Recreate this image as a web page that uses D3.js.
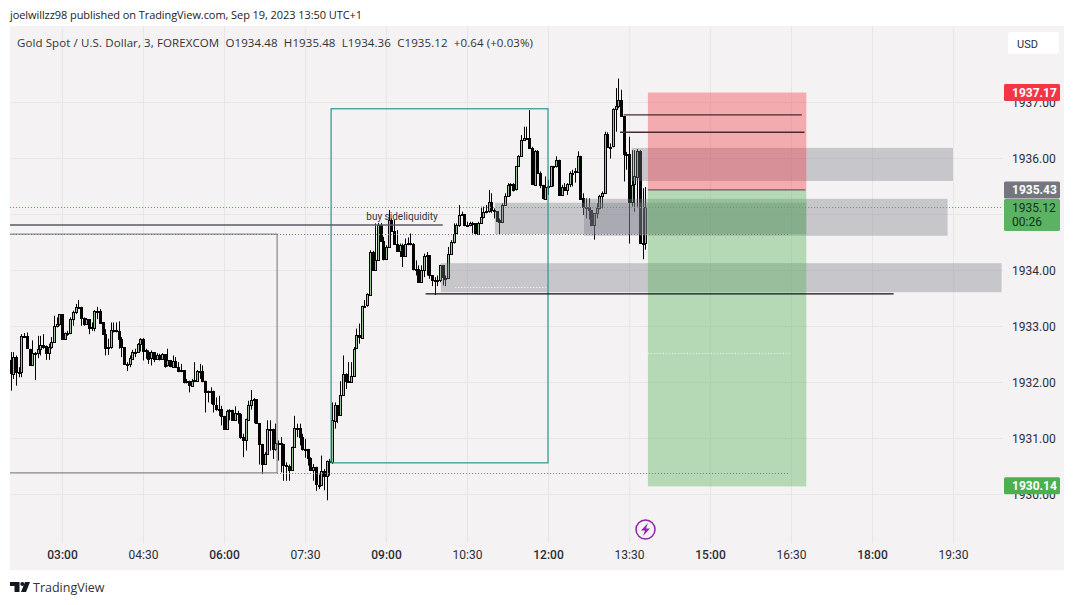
<!DOCTYPE html>
<html>

<head>
    <meta charset="utf-8">
    <style>
        html, body { margin: 0; padding: 0; background: #fff; overflow: hidden; }
        text { font-family: Roboto, sans-serif; white-space: pre; }
        .head { font-family: "Open Sans", sans-serif; }
    </style>
    <script src="https://cdn.jsdelivr.net/npm/d3@7/dist/d3.min.js"></script>
    <title>XAUUSD 3m</title>
</head>

<body>
    <div id="chart"></div>

    <script>
        // Candles: one every 3 minutes, the first at 02:00 (clipped by the pane edge)
        const opens = [1932.85,1932.38,1932.14,1932.44,1932.17,1932.17,1932.82,1932.81,1932.59,1932.30,
            1932.51,1932.51,1932.59,1932.66,1932.63,1932.51,1932.62,1932.71,1933.00,1933.03,
            1933.21,1932.77,1932.87,1932.87,1933.12,1933.24,1933.33,1933.34,1933.14,1933.03,
            1933.12,1932.96,1932.97,1933.27,1933.27,1933.06,1932.85,1932.60,1932.62,1932.93,
            1932.93,1932.91,1932.77,1932.62,1932.32,1932.31,1932.42,1932.54,1932.54,1932.68,
            1932.77,1932.56,1932.54,1932.42,1932.53,1932.41,1932.48,1932.41,1932.50,1932.29,
            1932.38,1932.27,1932.37,1932.27,1932.20,1932.21,1931.99,1932.01,1931.93,1932.02,
            1932.03,1932.20,1932.20,1932.02,1931.83,1931.81,1931.83,1931.59,1931.51,1931.51,
            1931.39,1931.16,1931.48,1931.50,1931.32,1931.44,1931.42,1931.01,1930.95,1931.33,
            1931.59,1931.68,1931.69,1931.26,1930.89,1930.53,1930.71,1931.16,1931.16,1930.80,
            1930.90,1930.90,1930.89,1930.52,1930.50,1930.42,1930.83,1931.17,1931.17,1931.01,
            1930.80,1930.80,1930.64,1930.42,1930.47,1930.16,1930.16,1930.41,1930.32,1930.58,
            1930.56,1931.31,1931.59,1931.42,1931.77,1932.14,1932.02,1932.01,1932.11,1932.59,
            1932.83,1932.79,1933.36,1933.36,1933.56,1934.32,1934.00,1934.18,1934.80,1934.52,
            1934.20,1934.41,1934.90,1934.70,1934.47,1934.35,1934.45,1934.26,1934.47,1934.48,
            1934.47,1934.02,1934.02,1933.78,1933.99,1934.24,1934.26,1933.90,1933.81,1933.81,
            1933.81,1934.08,1933.86,1933.86,1934.29,1934.50,1934.65,1934.80,1934.98,1935.00,
            1934.80,1934.80,1934.83,1934.83,1934.65,1934.84,1934.95,1935.04,1935.06,1935.22,
            1935.07,1935.06,1934.89,1934.86,1935.16,1935.32,1935.52,1935.53,1935.43,1935.85,
            1936.03,1936.32,1936.35,1936.35,1936.17,1935.53,1936.13,1935.74,1935.52,1935.28,
            1935.49,1935.50,1935.85,1935.86,1935.97,1935.34,1935.49,1935.44,1935.54,1935.73,
            1935.74,1935.76,1936.04,1935.28,1935.12,1935.13,1935.07,1934.80,1935.01,1935.10,
            1935.32,1935.38,1936.43,1936.20,1936.20,1936.87,1936.93,1937.04,1936.75,1936.07,
            1936.07,1935.22,1935.52,1935.67,1936.13,1934.48,1934.48];
        const closes = [1932.38,1932.14,1932.44,1932.17,1932.17,1932.82,1932.81,1932.59,1932.30,1932.51,
            1932.51,1932.59,1932.66,1932.63,1932.51,1932.62,1932.71,1933.00,1933.03,1933.21,
            1932.77,1932.87,1932.87,1933.12,1933.24,1933.33,1933.34,1933.14,1933.03,1933.12,
            1932.96,1932.97,1933.27,1933.27,1933.06,1932.85,1932.60,1932.62,1932.93,1932.93,
            1932.91,1932.77,1932.62,1932.32,1932.31,1932.42,1932.54,1932.54,1932.68,1932.77,
            1932.56,1932.54,1932.42,1932.53,1932.41,1932.48,1932.41,1932.50,1932.29,1932.38,
            1932.27,1932.37,1932.27,1932.20,1932.21,1931.99,1932.01,1931.93,1932.02,1932.03,
            1932.20,1932.20,1932.02,1931.83,1931.81,1931.83,1931.59,1931.51,1931.51,1931.39,
            1931.16,1931.48,1931.50,1931.32,1931.44,1931.42,1931.01,1930.95,1931.33,1931.59,
            1931.68,1931.69,1931.26,1930.89,1930.53,1930.71,1931.16,1931.16,1930.80,1930.90,
            1930.90,1930.89,1930.52,1930.50,1930.42,1930.83,1931.17,1931.17,1931.01,1930.80,
            1930.80,1930.64,1930.42,1930.47,1930.16,1930.16,1930.41,1930.32,1930.58,1930.56,
            1931.31,1931.59,1931.42,1931.77,1932.14,1932.02,1932.01,1932.11,1932.59,1932.83,
            1932.79,1933.36,1933.36,1933.56,1934.32,1934.00,1934.18,1934.80,1934.52,1934.20,
            1934.41,1934.90,1934.70,1934.47,1934.35,1934.45,1934.26,1934.47,1934.48,1934.47,
            1934.02,1934.02,1933.78,1933.99,1934.24,1934.26,1933.90,1933.81,1933.81,1933.81,
            1934.08,1933.86,1933.86,1934.29,1934.50,1934.65,1934.80,1934.98,1935.00,1934.80,
            1934.80,1934.83,1934.83,1934.65,1934.84,1934.95,1935.04,1935.06,1935.22,1935.07,
            1935.06,1934.89,1934.86,1935.16,1935.32,1935.52,1935.53,1935.43,1935.85,1936.03,
            1936.32,1936.35,1936.35,1936.17,1935.53,1936.13,1935.74,1935.52,1935.28,1935.49,
            1935.50,1935.85,1935.86,1935.97,1935.34,1935.49,1935.44,1935.54,1935.73,1935.74,
            1935.76,1936.04,1935.28,1935.12,1935.13,1935.07,1934.80,1935.01,1935.10,1935.32,
            1935.38,1936.43,1936.20,1936.20,1936.87,1936.93,1937.04,1936.75,1936.07,1936.07,
            1935.22,1935.52,1935.67,1936.13,1934.48,1934.48,1935.12];
        const highs = [1932.85,1932.53,1932.53,1932.47,1932.26,1932.85,1932.87,1932.88,1932.59,1932.74,
            1932.53,1932.82,1932.82,1932.85,1932.65,1932.68,1932.80,1933.18,1933.15,1933.21,
            1933.21,1932.88,1932.91,1933.15,1933.27,1933.39,1933.46,1933.34,1933.15,1933.14,
            1933.12,1933.06,1933.28,1933.34,1933.30,1933.06,1932.94,1932.77,1933.06,1933.06,
            1933.06,1933.08,1932.80,1932.62,1932.35,1932.47,1932.57,1932.59,1932.69,1932.78,
            1932.78,1932.59,1932.56,1932.56,1932.47,1932.51,1932.50,1932.51,1932.41,1932.59,
            1932.38,1932.47,1932.44,1932.35,1932.32,1932.20,1932.05,1932.02,1932.05,1932.35,
            1932.21,1932.32,1932.29,1932.02,1931.84,1931.90,1931.84,1931.72,1931.75,1931.57,
            1931.39,1931.50,1931.51,1931.50,1931.56,1931.48,1931.44,1931.07,1931.34,1931.66,
            1931.85,1931.71,1931.69,1931.26,1930.89,1930.74,1931.31,1931.31,1931.16,1931.25,
            1930.95,1931.01,1930.89,1930.56,1930.52,1930.84,1931.39,1931.25,1931.25,1931.07,
            1930.98,1930.80,1930.65,1930.53,1930.48,1930.34,1930.68,1930.44,1930.59,1930.62,
            1931.63,1931.63,1931.57,1932.01,1932.47,1932.15,1932.35,1932.35,1932.62,1932.95,
            1933.04,1933.36,1933.46,1933.58,1934.35,1934.34,1934.83,1934.84,1934.84,1934.59,
            1934.44,1935.07,1934.92,1934.89,1934.71,1934.47,1934.47,1934.56,1934.58,1934.65,
            1934.48,1934.17,1934.08,1934.08,1934.29,1934.32,1934.26,1933.90,1933.87,1933.90,
            1934.09,1934.08,1933.90,1934.41,1934.53,1934.83,1934.83,1935.16,1935.04,1935.00,
            1934.86,1934.86,1934.86,1934.83,1934.86,1935.13,1935.13,1935.16,1935.43,1935.37,
            1935.10,1935.04,1934.92,1935.19,1935.37,1935.55,1935.55,1935.55,1935.86,1936.05,
            1936.41,1936.56,1936.56,1936.86,1936.20,1936.14,1936.14,1935.76,1935.52,1935.67,
            1935.61,1935.86,1935.86,1936.03,1935.97,1935.52,1935.55,1935.55,1935.76,1935.79,
            1935.82,1936.12,1936.04,1935.37,1935.28,1935.28,1935.04,1935.01,1935.19,1935.34,
            1935.40,1936.47,1936.46,1936.26,1936.89,1937.25,1937.42,1937.22,1936.75,1936.11,
            1936.38,1936.14,1936.14,1936.16,1936.14,1935.46,1935.48];
        const lows = [1932.35,1931.84,1932.05,1931.93,1932.08,1932.08,1932.78,1932.59,1932.29,1932.29,
            1932.03,1932.42,1932.47,1932.59,1932.39,1932.39,1932.59,1932.71,1932.97,1933.00,
            1932.75,1932.77,1932.82,1932.85,1933.00,1933.21,1933.33,1933.00,1933.00,1933.02,
            1932.85,1932.91,1932.90,1933.12,1933.03,1932.84,1932.47,1932.48,1932.59,1932.88,
            1932.88,1932.59,1932.44,1932.31,1932.19,1932.26,1932.41,1932.44,1932.53,1932.54,
            1932.38,1932.41,1932.32,1932.29,1932.35,1932.39,1932.38,1932.39,1932.25,1932.27,
            1932.26,1932.26,1932.25,1932.17,1932.17,1931.97,1931.97,1931.81,1931.93,1932.03,
            1932.03,1932.05,1931.99,1931.45,1931.63,1931.60,1931.45,1931.48,1931.39,1931.22,
            1931.16,1931.16,1931.31,1931.31,1931.31,1931.25,1930.98,1930.65,1930.77,1931.31,
            1931.50,1931.26,1931.25,1930.52,1930.35,1930.53,1930.92,1930.77,1930.62,1930.77,
            1930.59,1930.38,1930.23,1930.23,1930.23,1930.41,1930.83,1931.01,1930.86,1930.77,
            1930.64,1930.50,1930.41,1930.23,1930.05,1930.08,1930.29,1930.06,1929.88,1930.32,
            1930.53,1931.16,1931.26,1931.41,1931.75,1931.87,1931.99,1932.01,1932.11,1932.59,
            1932.68,1932.79,1933.34,1933.34,1933.55,1933.99,1933.99,1934.17,1934.50,1934.17,
            1934.18,1934.41,1934.68,1934.47,1934.32,1934.23,1934.05,1934.26,1934.44,1934.44,
            1933.99,1933.90,1933.77,1933.77,1933.87,1933.90,1933.84,1933.71,1933.55,1933.71,
            1933.78,1933.72,1933.71,1933.99,1934.29,1934.47,1934.65,1934.77,1934.98,1934.78,
            1934.78,1934.78,1934.65,1934.62,1934.65,1934.84,1934.92,1935.01,1935.02,1935.02,
            1934.92,1934.86,1934.64,1934.84,1935.16,1935.32,1935.32,1935.40,1935.42,1935.85,
            1936.03,1936.31,1936.34,1936.16,1935.52,1935.52,1935.73,1935.46,1935.26,1935.28,
            1935.34,1935.48,1935.49,1935.83,1935.32,1935.32,1935.43,1935.34,1935.48,1935.49,
            1935.56,1935.74,1935.27,1934.98,1934.92,1934.90,1934.78,1934.54,1934.92,1935.08,
            1935.10,1935.37,1936.19,1935.99,1936.19,1936.47,1936.89,1936.74,1935.58,1935.79,
            1934.47,1935.13,1935.04,1935.13,1934.47,1934.19,1934.36];

        // Axis ticks
        const timeTicks = [180, 270, 360, 450, 540, 630, 720, 810, 900, 990, 1080, 1170];
        const timeLabels = ["03:00", "04:30", "06:00", "07:30", "09:00", "10:30", "12:00", "13:30", "15:00", "16:30", "18:00", "19:30"];
        const boldTimes = ["03:00", "06:00", "09:00", "12:00", "15:00", "18:00"];
        const priceGrid = [1930, 1931, 1932, 1933, 1934, 1935, 1936, 1937];
        // 1935.00 sits behind the last-price label, so it gets no text
        const priceTicks = [1930, 1931, 1932, 1933, 1934, 1936, 1937];

        // Drawings, in minutes of the day and price
        const stopPrice = 1937.17, entryPrice = 1935.43, targetPrice = 1930.14, lastPrice = 1935.12;
        const positionStart = 831, positionEnd = 1007;
        const zones = [
            [813, 1170, 1936.18, 1935.59],
            [760, 1164, 1935.27, 1934.61],
            [661, 1007, 1935.20, 1934.64],
            [601, 1224, 1934.12, 1933.60]
        ];
        const tealBox = [479, 720, 1936.88, 1930.55];
        const solidLines = [
            [120, 603, 1934.80, "#5a5b63", 1.5],
            [584, 1104, 1933.57, "#111", 1.2],
            [804, 1002, 1936.77, "#4a2a30", 1.3],
            [800, 1005, 1936.46, "#4a2a30", 1.3],
            [831, 1006, entryPrice, "#6b5a5e", 1.2]
        ];
        const dottedLines = [
            [120, 1224, lastPrice, "#4caf50"],
            [120, 989, 1934.65, "#787b86"],
            [419, 989, 1930.37, "#787b86"],
            [617, 720, 1933.69, "#fff"],
            [831, 989, 1932.51, "#fff"]
        ];
        const greyBox = [120, 419, 1934.64, 1930.37];

        const width = 1074, height = 605;
        const pane = { left: 10, right: 1064, top: 26, bottom: 570, gridRight: 1003, gridBottom: 543 };

        const svg = d3.select("#chart").append("svg")
            .attr("width", width)
            .attr("height", height)
            .style("display", "block");

        const x = d3.scaleLinear().domain([180, 1170]).range([62, 953]);
        const y = d3.scaleLinear().domain([1930, 1936]).range([493.6, 158]);

        svg.append("defs").append("clipPath").attr("id", "plot")
            .append("rect")
            .attr("x", pane.left)
            .attr("y", pane.top)
            .attr("width", pane.gridRight - pane.left)
            .attr("height", pane.gridBottom - pane.top);

        // Pane background
        svg.append("rect")
            .attr("x", pane.left)
            .attr("y", pane.top)
            .attr("width", pane.right - pane.left)
            .attr("height", pane.bottom - pane.top)
            .attr("fill", "#f4f2f3");

        // Grid
        svg.append("g").selectAll("line").data(timeTicks).enter().append("line")
            .attr("x1", d => Math.round(x(d)) + 0.5)
            .attr("x2", d => Math.round(x(d)) + 0.5)
            .attr("y1", pane.top)
            .attr("y2", pane.gridBottom)
            .attr("stroke", "#e7e5e7");
        svg.append("g").selectAll("line").data(priceGrid).enter().append("line")
            .attr("x1", pane.left)
            .attr("x2", pane.gridRight)
            .attr("y1", d => Math.round(y(d)) + 0.5)
            .attr("y2", d => Math.round(y(d)) + 0.5)
            .attr("stroke", "#e7e5e7");

        // Axes
        const xAxis = d3.axisBottom(x)
            .tickValues(timeTicks)
            .tickFormat((d, i) => timeLabels[i])
            .tickSize(0);
        const xG = svg.append("g").attr("transform", `translate(0,${pane.gridBottom})`).call(xAxis);
        xG.select(".domain").remove();
        xG.selectAll("text")
            .attr("y", 7)
            .attr("font-size", 12)
            .attr("dy", "0.71em")
            .attr("fill", "#2a2e39")
            .attr("font-weight", d => boldTimes.includes(timeLabels[timeTicks.indexOf(d)]) ? 500 : 400);

        const yAxis = d3.axisRight(y)
            .tickValues(priceTicks)
            .tickFormat(d3.format(".2f"))
            .tickSize(0);
        const yG = svg.append("g").attr("transform", `translate(1012,0.6)`).call(yAxis);
        yG.select(".domain").remove();
        yG.selectAll("text").attr("x", 0).attr("font-size", 12).attr("fill", "#2a2e39");

        // Candles
        const candles = svg.append("g").attr("clip-path", "url(#plot)");
        const candleX = i => Math.round(x(120 + 3 * i));

        candles.selectAll("line").data(closes).enter().append("line")
            .attr("x1", (d, i) => candleX(i) + 0.5)
            .attr("x2", (d, i) => candleX(i) + 0.5)
            .attr("y1", (d, i) => y(highs[i]))
            .attr("y2", (d, i) => y(lows[i]))
            .attr("stroke", "#050505")
            .attr("stroke-width", 1);

        candles.selectAll("rect").data(closes).enter().append("rect")
            .attr("x", (d, i) => candleX(i) - 0.5)
            .attr("y", (d, i) => Math.round(y(Math.max(opens[i], d))) + 0.5)
            .attr("width", 2)
            .attr("height", (d, i) => Math.max(1, Math.round(Math.abs(y(opens[i]) - y(d)))))
            .attr("fill", (d, i) => d >= opens[i] ? "#9dc49c" : "#000")
            .attr("stroke", "#050505")
            .attr("stroke-width", 1)
            .attr("shape-rendering", "crispEdges");

        // Grey order blocks
        svg.append("g").selectAll("rect").data(zones).enter().append("rect")
            .attr("x", d => x(d[0]))
            .attr("y", d => y(d[2]))
            .attr("width", d => x(d[1]) - x(d[0]))
            .attr("height", d => y(d[3]) - y(d[2]))
            .attr("fill", "#787b86")
            .attr("fill-opacity", 0.36);

        // Long position tool
        svg.append("rect")
            .attr("x", x(positionStart))
            .attr("y", y(stopPrice))
            .attr("width", x(positionEnd) - x(positionStart))
            .attr("height", y(entryPrice) - y(stopPrice))
            .attr("fill", "#f23645")
            .attr("fill-opacity", 0.38);
        svg.append("rect")
            .attr("x", x(positionStart))
            .attr("y", y(entryPrice))
            .attr("width", x(positionEnd) - x(positionStart))
            .attr("height", y(targetPrice) - y(entryPrice) + 0.6)
            .attr("fill", "#4caf50")
            .attr("fill-opacity", 0.38);

        // Teal range box
        svg.append("rect")
            .attr("x", x(tealBox[0]))
            .attr("y", y(tealBox[2]))
            .attr("width", x(tealBox[1]) - x(tealBox[0]))
            .attr("height", y(tealBox[3]) - y(tealBox[2]))
            .attr("fill", "none")
            .attr("stroke", "#2a9490")
            .attr("stroke-width", 1.2);

        // Grey box cut by the pane edge
        svg.append("path")
            .attr("d", `M${pane.left},${y(greyBox[2])}H${x(greyBox[1])}V${y(greyBox[3])}H${pane.left}`)
            .attr("fill", "none")
            .attr("stroke", "#85868f")
            .attr("stroke-width", 1.2);

        const lineX1 = d => Math.max(pane.left, x(d[0]));
        svg.append("g").selectAll("line").data(solidLines).enter().append("line")
            .attr("x1", lineX1)
            .attr("x2", d => x(d[1]))
            .attr("y1", d => y(d[2]))
            .attr("y2", d => y(d[2]))
            .attr("stroke", d => d[3])
            .attr("stroke-width", d => d[4]);

        svg.append("g").selectAll("line").data(dottedLines).enter().append("line")
            .attr("x1", lineX1)
            .attr("x2", d => x(d[1]))
            .attr("y1", d => Math.round(y(d[2])) + 0.5)
            .attr("y2", d => Math.round(y(d[2])) + 0.5)
            .attr("stroke", d => d[3])
            .attr("stroke-dasharray", "1 2");

        svg.append("text")
            .attr("x", 402)
            .attr("y", 220)
            .attr("text-anchor", "middle")
            .attr("font-size", 10)
            .attr("fill", "#33343c")
            .text("buy sideliquidity");

        // Price labels on the axis
        const label = (price, bg, h, txt) => {
            const cy = y(price);
            svg.append("rect")
                .attr("x", 1004).attr("width", 56)
                .attr("y", cy - 8.5).attr("height", h)
                .attr("rx", 1.5)
                .attr("fill", bg);
            svg.append("text")
                .attr("x", 1012).attr("y", cy + 4.5)
                .attr("font-size", 12).attr("font-weight", 700)
                .attr("fill", "#fff")
                .text(txt);
        };
        label(stopPrice, "#f23645", 17, "1937.17");
        label(entryPrice, "#74757f", 17, "1935.43");
        label(targetPrice, "#4caf50", 17, "1930.14");

        svg.append("rect")
            .attr("x", 1004).attr("width", 56)
            .attr("y", 199).attr("height", 32)
            .attr("rx", 1.5)
            .attr("fill", "#5cb263");
        svg.append("text").attr("x", 1012).attr("y", 212)
            .attr("font-size", 12).attr("fill", "#15301a").text("1935.12");
        svg.append("text").attr("x", 1012).attr("y", 226)
            .attr("font-size", 12).attr("fill", "#15301a").text("00:26");

        // Currency button
        svg.append("rect")
            .attr("x", 1008).attr("y", 32)
            .attr("width", 51).attr("height", 22)
            .attr("rx", 3)
            .attr("fill", "#fff");
        svg.append("text").attr("x", 1027.5).attr("y", 48)
            .attr("text-anchor", "middle")
            .attr("font-size", 11).attr("fill", "#2a2e39").text("USD");

        // Headline and symbol legend
        svg.append("text").attr("class", "head")
            .attr("x", 10).attr("y", 19)
            .attr("font-size", 11)
            .attr("textLength", 352)
            .attr("lengthAdjust", "spacing")
            .attr("fill", "#222")
            .text("joelwillzz98 published on TradingView.com, Sep 19, 2023 13:50 UTC+1");
        svg.append("text").attr("class", "head")
            .attr("x", 17).attr("y", 47)
            .attr("font-size", 11.5)
            .attr("textLength", 516)
            .attr("lengthAdjust", "spacing")
            .attr("fill", "#333")
            .text("Gold Spot / U.S. Dollar, 3, FOREXCOM  O1934.48  H1935.48  L1934.36  C1935.12  +0.64 (+0.03%)");

        // Lightning marker
        svg.append("circle")
            .attr("cx", 645.5).attr("cy", 529.5).attr("r", 9.5)
            .attr("fill", "none")
            .attr("stroke", "#8e24aa")
            .attr("stroke-width", 1.5);
        svg.append("path")
            .attr("d", "M648,523L641,530.5H645L643,536L650,528.5H646Z")
            .attr("fill", "#8e24aa");

        // Logo
        svg.append("path")
            .attr("d", "M10,582H19.5V592H14.5V586H10ZM25,582H30L26,592H21Z")
            .attr("fill", "#131722");
        svg.append("circle").attr("cx", 22.3).attr("cy", 584).attr("r", 2).attr("fill", "#131722");
        svg.append("text").attr("class", "head")
            .attr("x", 33).attr("y", 592)
            .attr("font-size", 12.5).attr("fill", "#333")
            .text("TradingView");
    </script>
</body>

</html>
